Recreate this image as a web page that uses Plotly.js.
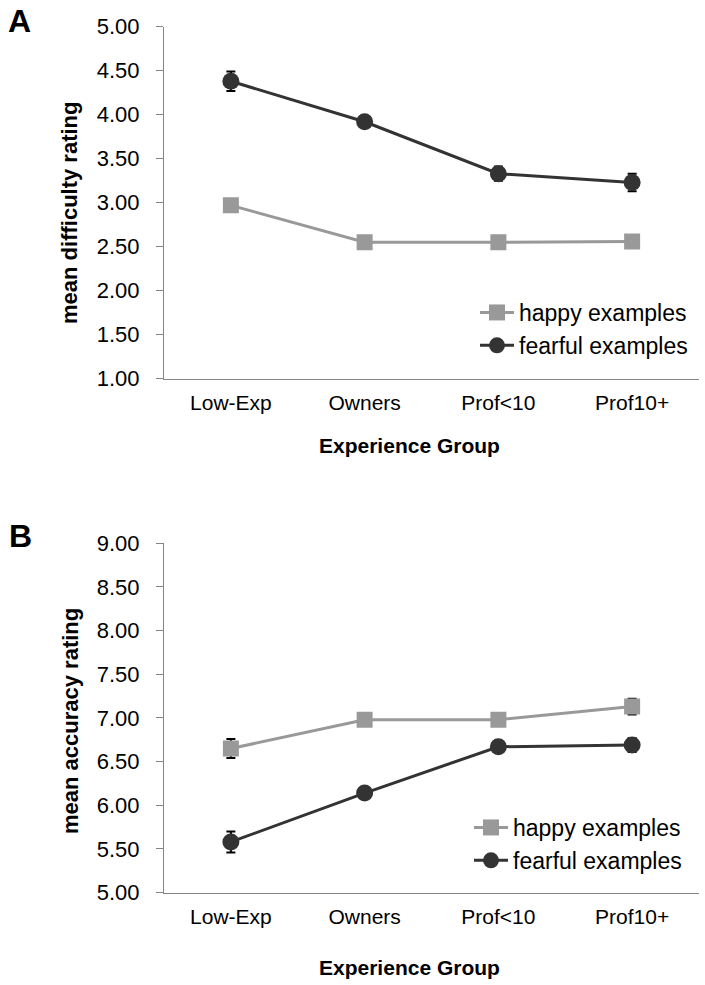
<!DOCTYPE html>
<html>
<head>
<meta charset="utf-8">
<script src="https://cdn.plot.ly/plotly-3.0.1.min.js"></script>
<style>
html, body { margin: 0; padding: 0; background: #ffffff; }
#chart { width: 705px; height: 985px; }
</style>
</head>
<body>
<div id="chart"></div>
<script>
// ---- data ----
const groups = ['Low-Exp', 'Owners', 'Prof<10', 'Prof10+'];

const difficultyHappy = [2.97, 2.55, 2.55, 2.56];
const difficultyHappyErr = [0.07, 0.04, 0.04, 0.05];
const difficultyFearful = [4.38, 3.92, 3.33, 3.23];
const difficultyFearfulErr = [0.11, 0.05, 0.08, 0.10];

const accuracyHappy = [6.65, 6.98, 6.98, 7.13];
const accuracyHappyErr = [0.11, 0.05, 0.05, 0.09];
const accuracyFearful = [5.58, 6.14, 6.67, 6.69];
const accuracyFearfulErr = [0.12, 0.05, 0.06, 0.08];

const seriesNames = ['happy examples', 'fearful examples'];
const yTitles = ['mean difficulty rating', 'mean accuracy rating'];
const xTitle = 'Experience Group';
const panelLetters = ['A', 'B'];

// ---- layout helpers ----
const W = 705, H = 985;
const M = {l: 164, r: 6, t: 20, b: 20};
const PW = W - M.l - M.r, PH = H - M.t - M.b;
const px2x = px => (px - M.l) / PW;
const py2y = py => 1 - (py - M.t) / PH;

const happyColor = '#999999';
const fearColor = '#333333';
const FONT = 'Liberation Sans, Arial, sans-serif';

function mkTrace(y, err, name, color, symbol, size, xa, ya, legend, show) {
  return {
    type: 'scatter', mode: 'lines+markers',
    x: groups, y: y, name: name,
    xaxis: xa, yaxis: ya, legend: legend, showlegend: show,
    line: {color: color, width: 3},
    marker: {color: color, symbol: symbol, size: size},
    error_y: {type: 'data', array: err, visible: true, color: '#000000', thickness: 2, width: 4.5},
    hoverinfo: 'skip'
  };
}

const traces = [
  mkTrace(difficultyHappy, difficultyHappyErr, seriesNames[0], happyColor, 'square', 16, 'x', 'y', 'legend', true),
  mkTrace(difficultyFearful, difficultyFearfulErr, seriesNames[1], fearColor, 'circle', 17, 'x', 'y', 'legend', true),
  mkTrace(accuracyHappy, accuracyHappyErr, seriesNames[0], happyColor, 'square', 16, 'x2', 'y2', 'legend2', true),
  mkTrace(accuracyFearful, accuracyFearfulErr, seriesNames[1], fearColor, 'circle', 17, 'x2', 'y2', 'legend2', true)
];

const axisLine = '#868686';
function xAxis(anchor) {
  return {
    anchor: anchor, domain: [0, 1], type: 'category',
    range: [-0.5, 3.5], showline: true, linecolor: axisLine, linewidth: 1,
    ticks: '', showgrid: false, zeroline: false,
    tickfont: {family: FONT, size: 21, color: '#000000'},
    ticklabelstandoff: 5, fixedrange: true
  };
}
function yAxis(anchor, domain, range) {
  return {
    anchor: anchor, domain: domain, range: range,
    tick0: range[0], dtick: 0.5, tickformat: '.2f',
    showline: true, linecolor: axisLine, linewidth: 1,
    ticks: 'outside', ticklen: 7, tickcolor: axisLine, tickwidth: 1,
    showgrid: false, zeroline: false,
    tickfont: {family: FONT, size: 22, color: '#000000'},
    ticklabelstandoff: 12, fixedrange: true
  };
}

const legendBase = {
  orientation: 'v', xanchor: 'left', yanchor: 'top',
  bgcolor: 'rgba(0,0,0,0)', borderwidth: 0,
  font: {family: FONT, size: 23, color: '#000000'},
  itemwidth: 34, tracegroupgap: 0
};

function ann(text, px, py, size, extra) {
  return Object.assign({
    text: text, xref: 'paper', yref: 'paper',
    x: px2x(px), y: py2y(py), xanchor: 'center', yanchor: 'middle',
    showarrow: false, font: {family: FONT, size: size, color: '#000000'}
  }, extra || {});
}

const layout = {
  width: W, height: H,
  margin: M,
  paper_bgcolor: '#ffffff', plot_bgcolor: '#ffffff',
  showlegend: true,
  xaxis: xAxis('y'),
  yaxis: yAxis('x', [py2y(378.7), py2y(26.7)], [1, 5]),
  xaxis2: xAxis('y2'),
  yaxis2: yAxis('x2', [py2y(892.6), py2y(543.3)], [5, 9]),
  legend: Object.assign({}, legendBase, {x: px2x(475), y: py2y(291)}),
  legend2: Object.assign({}, legendBase, {x: px2x(469), y: py2y(806)}),
  annotations: [
    ann('<b>' + panelLetters[0] + '</b>', 19, 21, 32),
    ann('<b>' + panelLetters[1] + '</b>', 20, 536, 32),
    ann('<b>' + yTitles[0] + '</b>', 70, 213, 22, {textangle: -90}),
    ann('<b>' + yTitles[1] + '</b>', 70, 721, 22, {textangle: -90}),
    ann('<b>' + xTitle + '</b>', 409, 445, 21),
    ann('<b>' + xTitle + '</b>', 409, 967, 21)
  ]
};

Plotly.newPlot('chart', traces, layout, {staticPlot: true, displayModeBar: false});
</script>
</body>
</html>
